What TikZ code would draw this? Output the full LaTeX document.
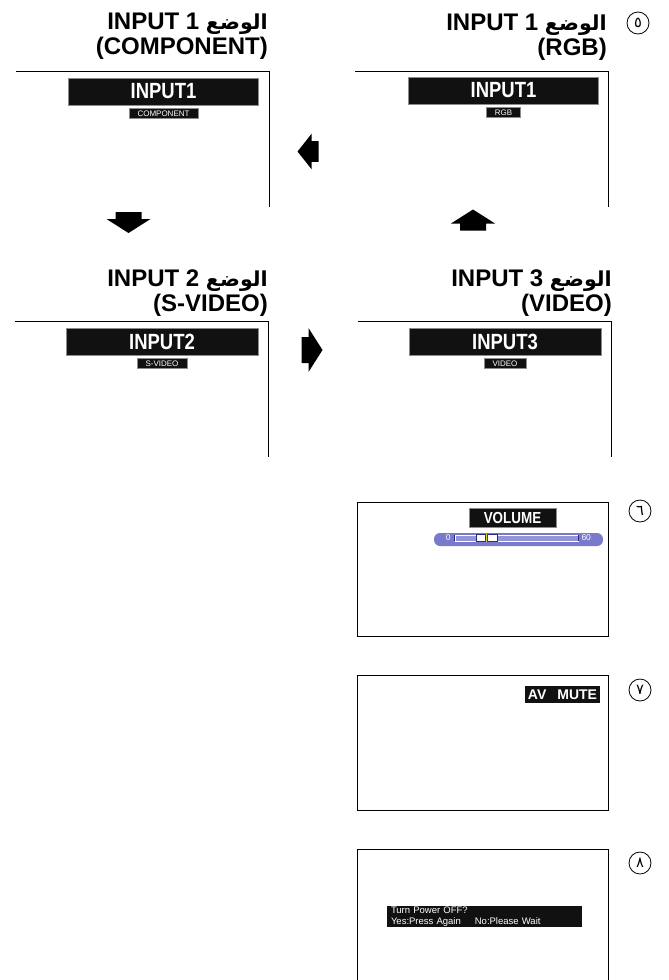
\documentclass[tikz,border=0pt]{standalone}
\usepackage{fontspec}
\setmainfont{Liberation Sans}
\newfontfamily\arabicfont[Script=Arabic, Scale=0.86]{DejaVu Sans}
\newfontfamily\osdfont[FakeStretch=0.84]{Liberation Sans}
\TeXXeTstate=1
\usetikzlibrary{positioning}

\definecolor{osdblack}{RGB}{17,17,17}
\definecolor{osdedge}{RGB}{140,140,140}
\definecolor{osdpurple}{RGB}{122,122,204}
\definecolor{osdnavy}{RGB}{40,40,140}

\tikzset{
    panel/.style={line width=1pt},
    osdbar/.style={fill=osdblack, draw=osdedge, line width=0.6pt, text=white, inner sep=0pt,
        minimum height=27pt, font=\osdfont\bfseries\fontsize{22}{22}\selectfont},
    osdtag/.style={fill=osdblack, draw=osdedge, line width=0.5pt, text=white, inner xsep=8.5pt,
        inner ysep=0pt, minimum height=10pt, font=\fontsize{8}{8}\selectfont},
    osdsmall/.style={text=white, inner sep=0pt, font=\fontsize{8.5}{8.5}\selectfont},
    header/.style={anchor=base east, inner sep=0pt, font=\bfseries\fontsize{24}{26}\selectfont},
    stepno/.style={circle, draw, line width=0.8pt, minimum size=22pt, inner sep=0pt,
        font=\arabicfont\fontsize{17}{17}\selectfont},
    blkarrow/.pic={\fill (-10.5,-13) -- (-3.5,-13) -- (-3.5,-22) -- (10.5,0) -- (-3.5,22)
        -- (-3.5,13) -- (-10.5,13) -- cycle;}
}

\begin{document}
\begin{tikzpicture}[x=1pt, y=-1pt]
    \useasboundingbox (0,0) rectangle (669,980);
    % Headers of the four input screens:
    \node[header] (hdcompa) at (268,29) {INPUT 1 {\arabicfont\beginR الوضع\endR}};
    \node[header] (hdcompb) at (268,54) {(COMPONENT)};
    \node[header] (hdrgba) at (607,30) {INPUT 1 {\arabicfont\beginR الوضع\endR}};
    \node[header] (hdrgbb) at (607,55) {(RGB)};
    \node[header] (hdsvida) at (268,286) {INPUT 2 {\arabicfont\beginR الوضع\endR}};
    \node[header] (hdsvidb) at (268,311) {(S-VIDEO)};
    \node[header] (hdvida) at (612,286) {INPUT 3 {\arabicfont\beginR الوضع\endR}};
    \node[header] (hdvidb) at (612,311) {(VIDEO)};

    % Screen frames:
    \draw[panel] (16,71) -| (269,207);
    \draw[panel] (355,71) -| (608,207);
    \draw[panel] (15,321) -| (268,457);
    \draw[panel] (358,321) -| (611,457);
    \draw[panel] (357,502) rectangle (608,636);
    \draw[panel] (357,675) rectangle (608,810);
    \draw[panel] (357,980) |- (608,849) -- (608,980);

    % On-screen input labels:
    \node[osdbar, minimum width=190pt] (barcomp) at (163.5,91.5) {INPUT1};
    \node[osdtag, below=3pt of barcomp] (tagcomp) {COMPONENT};
    \node[osdbar, minimum width=190pt] (barrgb) at (503.5,90.5) {INPUT1};
    \node[osdtag, below=3pt of barrgb] (tagrgb) {RGB};
    \node[osdbar, minimum width=192pt] (barsvid) at (162,341.5) {INPUT2};
    \node[osdtag, below=3pt of barsvid] (tagsvid) {S-VIDEO};
    \node[osdbar, minimum width=192pt] (barvid) at (505,341.5) {INPUT3};
    \node[osdtag, below=3pt of barvid] (tagvid) {VIDEO};

    % Cycle arrows:
    \pic[rotate=180, yscale=0.8] at (308,151.5) {blkarrow};
    \pic[rotate=-90] at (128.5,222.5) {blkarrow};
    \pic[rotate=90] at (473,220) {blkarrow};
    \pic at (312,350) {blkarrow};

    % Volume screen:
    \node[osdbar, minimum width=87pt, minimum height=19pt, font=\osdfont\bfseries\fontsize{16}{16}\selectfont]
        (barvol) at (512.5,517.5) {VOLUME};
    \node[fill=osdpurple, rounded corners=6pt, minimum width=169pt, minimum height=13pt, inner sep=0pt]
        (volslider) at (518.5,539.5) {};
    \node[draw=white, fill=osdpurple!80!white, line width=0.6pt, minimum width=123pt, minimum height=6pt,
        inner sep=0pt] (voltrack) at (516.5,538) {};
    \draw[osdnavy, line width=0.8pt] (voltrack.north west) -- (voltrack.south west);
    \draw[osdnavy, line width=0.8pt] (voltrack.north east) -- (voltrack.south east);
    \node[fill=white, draw=osdnavy, line width=0.6pt, minimum width=21pt, minimum height=7pt, inner sep=0pt]
        (volthumb) at (486.5,538) {};
    \draw[black!75, line width=2.2pt] (volthumb.north) -- (volthumb.south);
    \draw[yellow!85!black, line width=1.1pt] (volthumb.north) -- (volthumb.south);
    \node[osdsmall, left=4pt of voltrack] (volmin) {0};
    \node[osdsmall, right=3pt of voltrack] (volmax) {60};

    % Mute and power screens:
    \node[osdbar, draw=none, minimum width=75pt, minimum height=17pt, font=\bfseries\fontsize{14}{14}\selectfont]
        (barmute) at (562.5,694.5) {AV\hspace{11pt}MUTE};
    \node[osdbar, draw=none, minimum width=195pt, minimum height=21pt, text width=187pt, align=left,
        font=\fontsize{9.5}{10.5}\selectfont] (barpower) at (484.5,916.5)
        {Turn Power OFF?\\Yes:Press Again\hspace{14pt}No:Please Wait};

    % Step numbers:
    \node[stepno] (no5) at (638,23) {٥};
    \node[stepno] (no6) at (640,511) {٦};
    \node[stepno] (no7) at (640,690) {٧};
    \node[stepno] (no8) at (640,863) {٨};
\end{tikzpicture}
\end{document}
